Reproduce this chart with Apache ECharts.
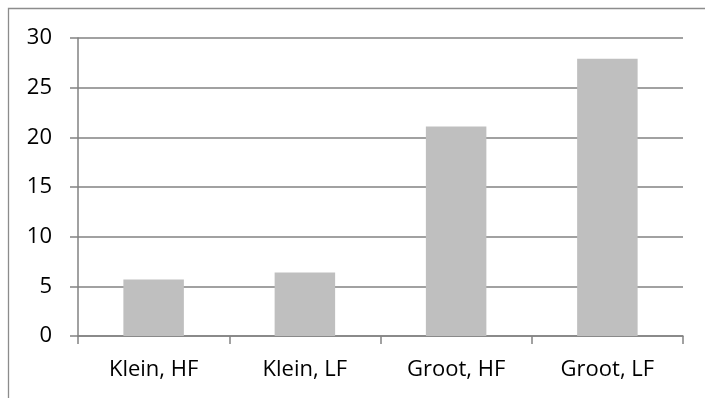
<!DOCTYPE html>
<html>
<head>
<meta charset="utf-8">
<script src="https://cdn.jsdelivr.net/npm/echarts@6/dist/echarts.min.js"></script>
<style>
html, body { margin: 0; padding: 0; background: #fff; }
#chart { width: 705px; height: 398px; }
</style>
</head>
<body>
<div id="chart"></div>
<script>
// Categories and measured values
const categories = ['Klein, HF', 'Klein, LF', 'Groot, HF', 'Groot, LF'];
const values = [5.7, 6.4, 21.1, 27.9];
const yTicks = { min: 0, max: 30, interval: 5 };

const lineColor = '#828282';
const fontFamily = '"Open Sans", "Noto Sans", sans-serif';

const chart = echarts.init(document.getElementById('chart'), null, { renderer: 'canvas' });
chart.setOption({
  animation: false,
  backgroundColor: '#ffffff',
  graphic: [{
    type: 'rect',
    shape: { x: 8.5, y: 8.5, width: 760, height: 460 },
    style: { fill: 'none', stroke: '#8c8c8c', lineWidth: 1.3 },
    silent: true
  }],
  grid: { left: 78, right: 22, top: 38, bottom: 62, containLabel: false },
  xAxis: {
    type: 'category',
    data: categories,
    boundaryGap: true,
    axisLine: { show: true, lineStyle: { color: lineColor, width: 1.5 } },
    axisTick: { show: true, length: 8, alignWithLabel: false, lineStyle: { color: lineColor, width: 1.5 } },
    axisLabel: { color: '#000', fontFamily: fontFamily, fontSize: 22, margin: 23 },
    splitLine: { show: false }
  },
  yAxis: {
    type: 'value',
    min: yTicks.min,
    max: yTicks.max,
    interval: yTicks.interval,
    axisLine: { show: true, lineStyle: { color: lineColor, width: 1.5 } },
    axisTick: { show: true, length: 8, lineStyle: { color: lineColor, width: 1.5 } },
    axisLabel: { color: '#000', fontFamily: fontFamily, fontSize: 22, margin: 26 },
    splitLine: { show: true, lineStyle: { color: lineColor, width: 1.5 } }
  },
  series: [{
    type: 'bar',
    data: values,
    barWidth: '40%',
    itemStyle: { color: '#bfbfbf' }
  }]
});
</script>
</body>
</html>
